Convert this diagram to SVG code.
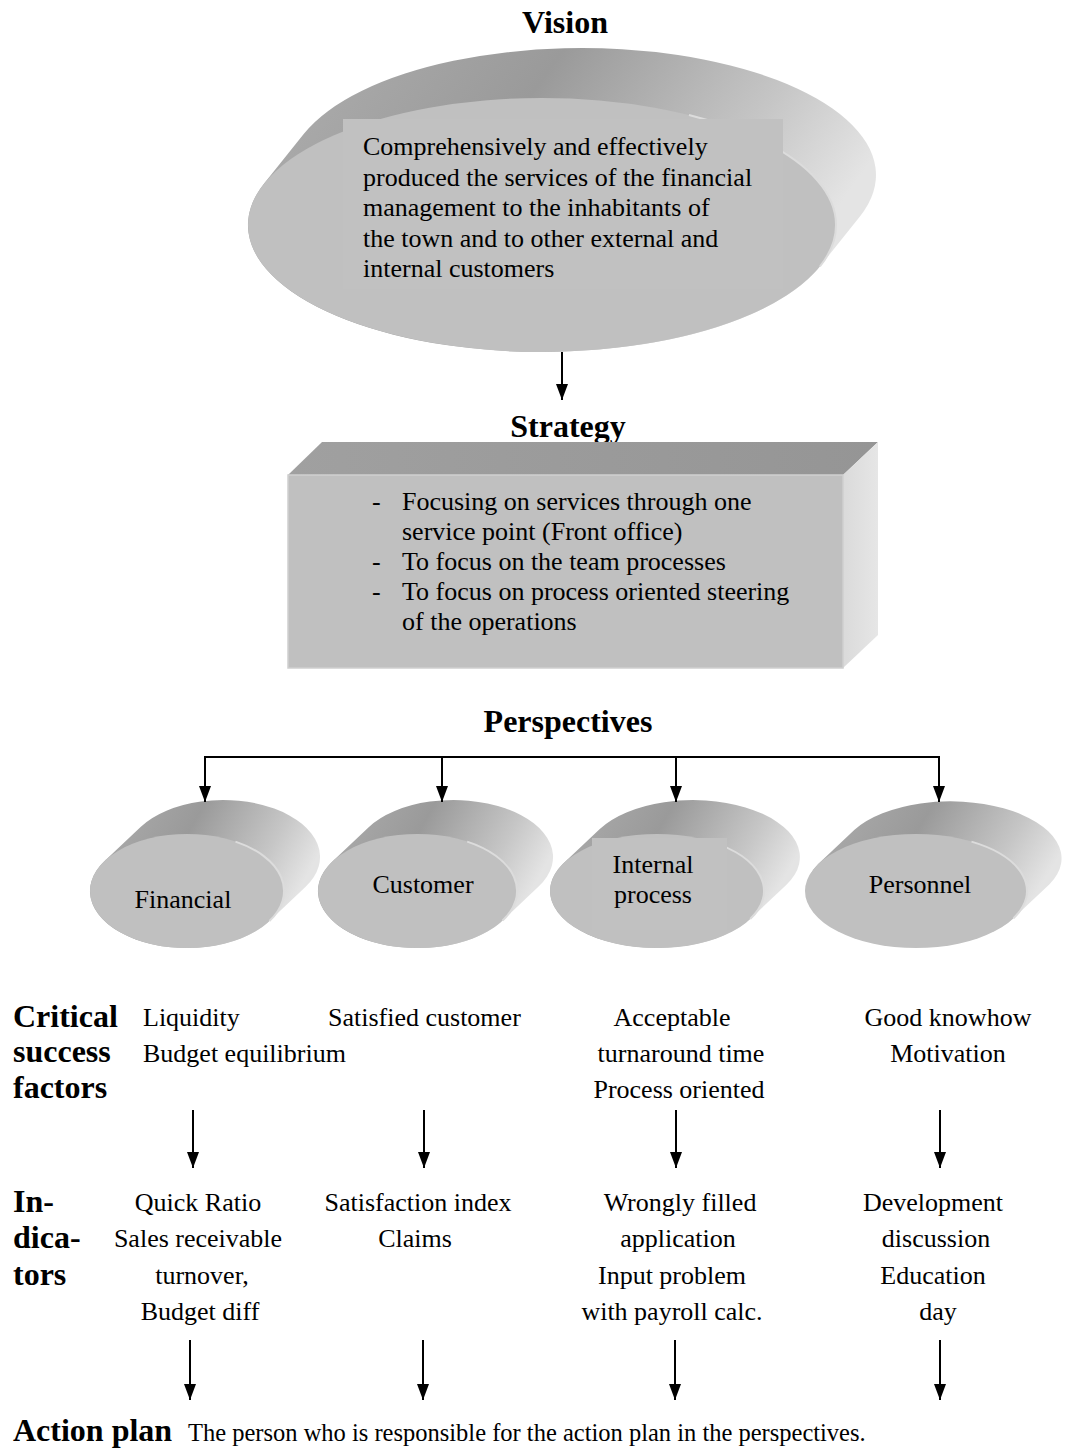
<svg xmlns="http://www.w3.org/2000/svg" width="1069" height="1456" viewBox="0 0 1069 1456">
  <defs>
    <style>
      .title { font-family: "Liberation Serif", "Times New Roman", serif; font-weight: bold; font-size: 32px; fill: #000; }
      .body { font-family: "Liberation Serif", "Times New Roman", serif; font-size: 26px; fill: #000; }
      .mid { text-anchor: middle; }
      .side { fill: url(#sideGrad); }
      .face { fill: #c0c0c0; }
      .rim { fill: none; stroke: #dcdcdc; stroke-width: 2; }
      .conn { fill: none; stroke: #000; stroke-width: 2; marker-end: url(#arrow); }
    </style>
    <linearGradient id="sideGrad" x1="0" y1="0" x2="1" y2="0.35">
      <stop offset="0" stop-color="#b0b0b0"/>
      <stop offset="0.45" stop-color="#9a9a9a"/>
      <stop offset="0.8" stop-color="#c6c6c6"/>
      <stop offset="1" stop-color="#e4e4e4"/>
    </linearGradient>
    <linearGradient id="topGrad" x1="0" y1="0" x2="1" y2="0">
      <stop offset="0" stop-color="#a0a0a0"/>
      <stop offset="1" stop-color="#959595"/>
    </linearGradient>
    <linearGradient id="rightGrad" x1="0" y1="0" x2="1" y2="0">
      <stop offset="0" stop-color="#dadada"/>
      <stop offset="1" stop-color="#e6e6e6"/>
    </linearGradient>
    <marker id="arrow" viewBox="0 0 16 12" refX="16" refY="6" markerWidth="16" markerHeight="12" markerUnits="userSpaceOnUse" orient="auto">
      <path d="M0,0 L16,6 L0,12 Z" fill="#000"/>
    </marker>
  </defs>

  <rect width="1069" height="1456" fill="#fff"/>

  <!-- Vision -->
  <g id="vision">
    <text class="title mid" x="565" y="33">Vision</text>
    <path class="side" d="M264.1,183.5 L304.1,133.5 A294,127 0 0 1 859.9,216.5 L819.9,266.5 A294,127 0 0 1 264.1,183.5 Z"/>
    <ellipse class="face" cx="542" cy="225" rx="294" ry="127"/>
    <path class="rim" d="M689,115 A294,127 0 0 1 819.9,266.5"/>
    <rect x="343" y="119" width="440" height="170" fill="#c1c1c1"/>
    <text class="body" x="363" y="155">Comprehensively and effectively</text>
    <text class="body" x="363" y="185.5">produced the services of the financial</text>
    <text class="body" x="363" y="216">management to the inhabitants of</text>
    <text class="body" x="363" y="246.5">the town and to other external and</text>
    <text class="body" x="363" y="277">internal customers</text>
  </g>

  <!-- Strategy -->
  <g id="strategy">
    <text class="title mid" x="568" y="437">Strategy</text>
    <polygon points="288,475 322,442 878,442 843,475" fill="url(#topGrad)"/>
    <polygon points="843,475 878,442 878,635 843,668" fill="url(#rightGrad)"/>
    <rect x="288" y="475" width="555" height="193" fill="#c0c0c0" stroke="#cfcfcf" stroke-width="1.5"/>
    <text class="body" x="372" y="510">-</text>
    <text class="body" x="402" y="510">Focusing on services through one</text>
    <text class="body" x="402" y="540">service point (Front office)</text>
    <text class="body" x="372" y="570">-</text>
    <text class="body" x="402" y="570">To focus on the team processes</text>
    <text class="body" x="372" y="600">-</text>
    <text class="body" x="402" y="600">To focus on process oriented steering</text>
    <text class="body" x="402" y="630">of the operations</text>
  </g>

  <text id="perspectives-title" class="title mid" x="568" y="732">Perspectives</text>

  <!-- Perspective nodes -->
  <g id="financial">
    <path class="side" d="M104.6,860.9 L140.6,826.9 A97,57 0 0 1 305.4,887.1 L269.4,921.1 A97,57 0 0 1 104.6,860.9 Z"/>
    <ellipse class="face" cx="187" cy="891" rx="97" ry="57"/>
    <path class="rim" d="M235.5,841.6 A97,57 0 0 1 269.4,921.1"/>
    <text class="body mid" x="183" y="908">Financial</text>
  </g>
  <g id="customer">
    <path class="side" d="M332.4,861.4 L368.4,827.4 A99.5,57 0 0 1 538.6,886.6 L502.6,920.6 A99.5,57 0 0 1 332.4,861.4 Z"/>
    <ellipse class="face" cx="417.5" cy="891" rx="99.5" ry="57"/>
    <path class="rim" d="M467.2,841.6 A99.5,57 0 0 1 502.6,920.6"/>
    <text class="body mid" x="423" y="893">Customer</text>
  </g>
  <g id="internal-process">
    <path class="side" d="M563.8,863 L599.8,829 A107,57 0 0 1 786.2,885 L750.2,919 A107,57 0 0 1 563.8,863 Z"/>
    <ellipse class="face" cx="657" cy="891" rx="107" ry="57"/>
    <path class="rim" d="M710.5,841.6 A107,57 0 0 1 750.2,919"/>
    <rect x="592" y="838" width="135" height="92" fill="#c1c1c1"/>
    <text class="body mid" x="653" y="873">Internal</text>
    <text class="body mid" x="653" y="903">process</text>
  </g>
  <g id="personnel">
    <path class="side" d="M818.5,863.8 L854.5,829.8 A111,57 0 0 1 1049.5,884.2 L1013.5,918.2 A111,57 0 0 1 818.5,863.8 Z"/>
    <ellipse class="face" cx="916" cy="891" rx="111" ry="57"/>
    <path class="rim" d="M971.5,841.6 A111,57 0 0 1 1013.5,918.2"/>
    <text class="body mid" x="920" y="893">Personnel</text>
  </g>

  <!-- Row labels -->
  <g id="label-csf">
    <text class="title" x="13" y="1027">Critical</text>
    <text class="title" x="13" y="1062">success</text>
    <text class="title" x="13" y="1098">factors</text>
  </g>
  <g id="label-indicators">
    <text class="title" x="13" y="1212">In-</text>
    <text class="title" x="13" y="1248">dica-</text>
    <text class="title" x="13" y="1285">tors</text>
  </g>

  <!-- Critical success factors -->
  <g id="csf-financial">
    <text class="body" x="143" y="1026">Liquidity</text>
    <text class="body" x="143" y="1062">Budget equilibrium</text>
  </g>
  <g id="csf-customer">
    <text class="body" x="328" y="1026">Satisfied customer</text>
  </g>
  <g id="csf-internal">
    <text class="body mid" x="672" y="1026">Acceptable</text>
    <text class="body mid" x="681" y="1062">turnaround time</text>
    <text class="body mid" x="679" y="1098">Process oriented</text>
  </g>
  <g id="csf-personnel">
    <text class="body mid" x="948" y="1026">Good knowhow</text>
    <text class="body mid" x="948" y="1062">Motivation</text>
  </g>

  <!-- Indicators -->
  <g id="ind-financial">
    <text class="body mid" x="198" y="1211">Quick Ratio</text>
    <text class="body mid" x="198" y="1247">Sales receivable</text>
    <text class="body mid" x="202" y="1284">turnover,</text>
    <text class="body mid" x="200" y="1320">Budget diff</text>
  </g>
  <g id="ind-customer">
    <text class="body mid" x="418" y="1211">Satisfaction index</text>
    <text class="body mid" x="415" y="1247">Claims</text>
  </g>
  <g id="ind-internal">
    <text class="body mid" x="680" y="1211">Wrongly filled</text>
    <text class="body mid" x="678" y="1247">application</text>
    <text class="body mid" x="672" y="1284">Input problem</text>
    <text class="body mid" x="672" y="1320">with payroll calc.</text>
  </g>
  <g id="ind-personnel">
    <text class="body mid" x="933" y="1211">Development</text>
    <text class="body mid" x="936" y="1247">discussion</text>
    <text class="body mid" x="933" y="1284">Education</text>
    <text class="body mid" x="938" y="1320">day</text>
  </g>

  <!-- Action plan -->
  <g id="action-plan">
    <text class="title" x="13" y="1441">Action plan</text>
    <text class="body" x="188" y="1441" style="font-size:24.5px">The person who is responsible for the action plan in the perspectives.</text>
  </g>

  <!-- Connectors -->
  <g id="connectors">
    <line class="conn" x1="562" y1="352" x2="562" y2="400"/>
    <polyline fill="none" stroke="#000" stroke-width="2" points="205,757 939,757"/>
    <line class="conn" x1="205" y1="756" x2="205" y2="802"/>
    <line class="conn" x1="442" y1="756" x2="442" y2="802"/>
    <line class="conn" x1="676" y1="756" x2="676" y2="802"/>
    <line class="conn" x1="939" y1="756" x2="939" y2="802"/>
    <line class="conn" x1="193" y1="1110" x2="193" y2="1168"/>
    <line class="conn" x1="424" y1="1110" x2="424" y2="1168"/>
    <line class="conn" x1="676" y1="1110" x2="676" y2="1168"/>
    <line class="conn" x1="940" y1="1110" x2="940" y2="1168"/>
    <line class="conn" x1="190" y1="1340" x2="190" y2="1400"/>
    <line class="conn" x1="423" y1="1340" x2="423" y2="1400"/>
    <line class="conn" x1="675" y1="1340" x2="675" y2="1400"/>
    <line class="conn" x1="940" y1="1340" x2="940" y2="1400"/>
  </g>
</svg>
